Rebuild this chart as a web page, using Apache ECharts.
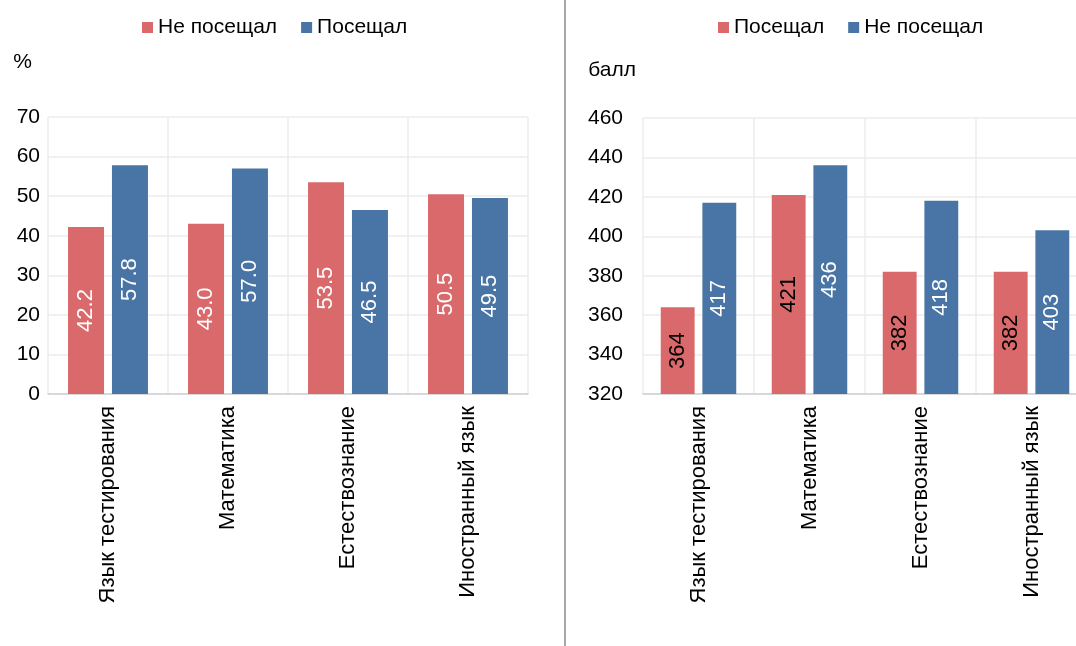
<!DOCTYPE html>
<html>
<head>
<meta charset="utf-8">
<script src="https://cdn.jsdelivr.net/npm/echarts@6.0.0/dist/echarts.min.js"></script>
<style>
  html, body { margin: 0; padding: 0; background: #fff; overflow: hidden; }
  #main { width: 1090px; height: 646px; }
</style>
</head>
<body>
<div id="main"></div>
<script>
// данные
var categories = ['Язык тестирования', 'Математика', 'Естествознание', 'Иностранный язык'];

// левый график: доля, %
var shareNotVisited = [42.2, 43.0, 53.5, 50.5];
var shareVisited = [57.8, 57.0, 46.5, 49.5];

// правый график: средний балл
var scoreVisited = [364, 421, 382, 382];
var scoreNotVisited = [417, 436, 418, 403];

var RED = '#d9696a';
var BLUE = '#4874a6';
var FONT = 'Liberation Sans';
var FS = 21;

var chart = echarts.init(document.getElementById('main'));

function xAxisFor(idx) {
  return {
    type: 'category',
    gridIndex: idx,
    data: categories,
    axisTick: { show: false },
    axisLine: { lineStyle: { color: '#d0d0d0', width: 1.5 } },
    splitLine: { show: true, lineStyle: { color: '#ececec', width: 1.5 } },
    axisLabel: { rotate: 90, margin: 12, color: '#000', fontSize: 22, fontFamily: FONT }
  };
}

function barLabel(color, digits) {
  return {
    show: true,
    position: 'inside',
    rotate: 90,
    color: color,
    fontSize: 22,
    fontFamily: FONT,
    formatter: function (p) { return p.value.toFixed(digits); }
  };
}

chart.setOption({
  animation: false,
  textStyle: { fontFamily: FONT },
  legend: [
    {
      left: 137, top: 12,
      icon: 'rect', itemWidth: 11, itemHeight: 11, itemGap: 24,
      textStyle: { fontSize: FS, color: '#000', fontFamily: FONT },
      data: ['Не посещал', 'Посещал']
    },
    {
      left: 713, top: 12,
      icon: 'rect', itemWidth: 11, itemHeight: 11, itemGap: 24,
      textStyle: { fontSize: FS, color: '#000', fontFamily: FONT },
      formatter: function (n) { return n.trim(); },
      data: ['Посещал ', 'Не посещал ']
    }
  ],
  grid: [
    { left: 48, top: 117, width: 480, height: 277 },
    { left: 643, top: 118, width: 444, height: 276 }
  ],
  xAxis: [xAxisFor(0), xAxisFor(1)],
  yAxis: [
    {
      type: 'value', gridIndex: 0, min: 0, max: 70, interval: 10,
      name: '%', nameLocation: 'end', nameGap: 55,
      nameTextStyle: { fontSize: FS, color: '#000', align: 'right', verticalAlign: 'middle', padding: [0, 16, 0, 0] },
      axisLine: { show: false }, axisTick: { show: false },
      splitLine: { lineStyle: { color: '#ececec', width: 1.5 } },
      axisLabel: { margin: 8, color: '#000', fontSize: FS, fontFamily: FONT }
    },
    {
      type: 'value', gridIndex: 1, min: 320, max: 460, interval: 20,
      name: 'балл', nameLocation: 'end', nameGap: 48,
      nameTextStyle: { fontSize: FS, color: '#000', align: 'right', verticalAlign: 'middle', padding: [0, 7, 0, 0] },
      axisLine: { show: false }, axisTick: { show: false },
      splitLine: { lineStyle: { color: '#ececec', width: 1.5 } },
      axisLabel: { margin: 20, color: '#000', fontSize: FS, fontFamily: FONT }
    }
  ],
  series: [
    {
      name: 'Не посещал', type: 'bar', xAxisIndex: 0, yAxisIndex: 0,
      data: shareNotVisited, barWidth: '30%', barGap: '22%',
      itemStyle: { color: RED },
      label: barLabel('#fff', 1)
    },
    {
      name: 'Посещал', type: 'bar', xAxisIndex: 0, yAxisIndex: 0,
      data: shareVisited, barWidth: '30%', barGap: '22%',
      itemStyle: { color: BLUE },
      label: barLabel('#fff', 1)
    },
    {
      name: 'Посещал ', type: 'bar', xAxisIndex: 1, yAxisIndex: 1,
      data: scoreVisited, barWidth: '30.5%', barGap: '23%',
      itemStyle: { color: RED },
      label: barLabel('#000', 0)
    },
    {
      name: 'Не посещал ', type: 'bar', xAxisIndex: 1, yAxisIndex: 1,
      data: scoreNotVisited, barWidth: '30.5%', barGap: '23%',
      itemStyle: { color: BLUE },
      label: barLabel('#fff', 0)
    }
  ],
  graphic: [
    {
      type: 'line',
      shape: { x1: 565, y1: 0, x2: 565, y2: 646 },
      style: { stroke: '#8a8a8a', lineWidth: 1.5 }
    }
  ]
});
</script>
</body>
</html>
